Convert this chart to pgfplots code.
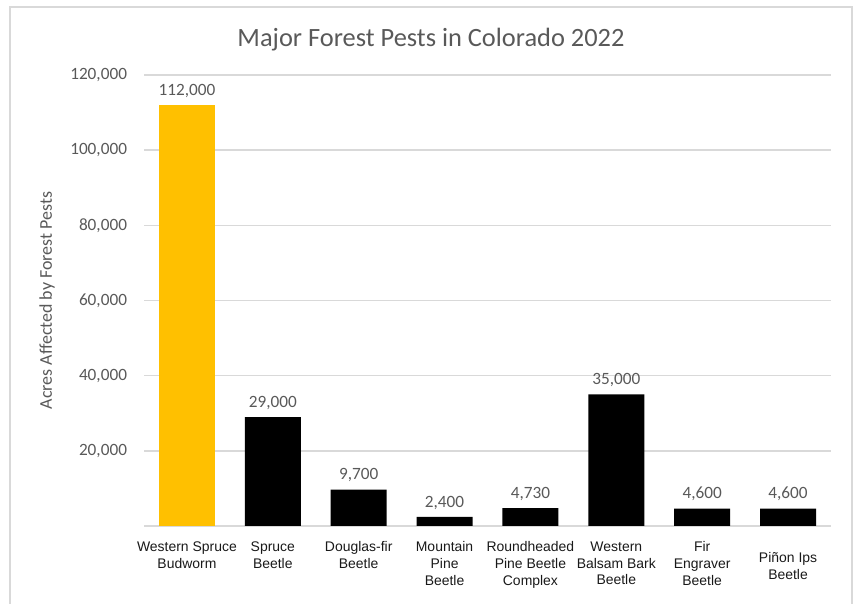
\documentclass[border=0pt]{standalone}
\usepackage{pgfplots}
\pgfplotsset{compat=1.18}
\usepackage{fontspec}
\setmainfont{Carlito}
\newfontfamily\arialf{Liberation Sans}
\definecolor{txtgray}{HTML}{595959}
\definecolor{gridgray}{HTML}{D9D9D9}
\definecolor{gold}{HTML}{FFC000}
\begin{document}
\begin{tikzpicture}
\path[use as bounding box] (0,0) rectangle (858bp,604bp);
\draw[gridgray, line width=1.5bp] (10bp,-5bp) rectangle (852bp,597bp);
\node[text=txtgray, font=\fontsize{26.5}{30}\selectfont] at (431bp,564bp) {Major Forest Pests in Colorado 2022};
\begin{axis}[
  at={(144bp,78bp)}, anchor=south west,
  scale only axis, width=687bp, height=451bp,
  xmin=-0.5, xmax=7.5, ymin=0, ymax=120000,
  ybar, bar width=56bp, bar shift=0pt,
  axis x line*=bottom, axis y line*=left,
  y axis line style={draw=none},
  x axis line style={gridgray, line width=1.5bp, -},
  major tick length=0pt,
  xtick={0,...,7},
  xticklabels={Western Spruce\\Budworm, Spruce\\Beetle, Douglas-fir\\Beetle, Mountain\\Pine\\Beetle, Roundheaded\\Pine Beetle\\Complex, Western\\Balsam Bark\\Beetle, Fir\\Engraver\\Beetle, {\raisebox{-9bp}[\height]{\begin{tabular}{@{}c@{}}Piñon Ips\\Beetle\end{tabular}}}},
  xticklabel style={align=center, font=\arialf\fontsize{14}{17}\selectfont, text=black!90, yshift=-12bp},
  ytick={20000,40000,...,120000},
  yticklabel style={font=\fontsize{17.3}{20}\selectfont, text=txtgray, xshift=-13.5bp},
  ymajorgrids,
  grid style={gridgray, line width=1.5bp},
  scaled y ticks=false,
  ylabel={Acres Affected by Forest Pests},
  ylabel style={at={(axis description cs:-0.1412,0.5)}, anchor=center, font=\fontsize{18}{21}\selectfont, text=txtgray},
  nodes near coords,
  nodes near coords style={font=\fontsize{17.3}{20}\selectfont, text=txtgray, yshift=4bp},
  /pgf/number format/.cd, fixed, precision=0, 1000 sep={,}, assume math mode=true
]
\addplot[fill=gold, draw=none] coordinates {(0,112000)};
\addplot[fill=black, draw=none] coordinates {(1,29000) (2,9700) (3,2400) (4,4730) (5,35000) (6,4600) (7,4600)};
\end{axis}
\end{tikzpicture}
\end{document}
